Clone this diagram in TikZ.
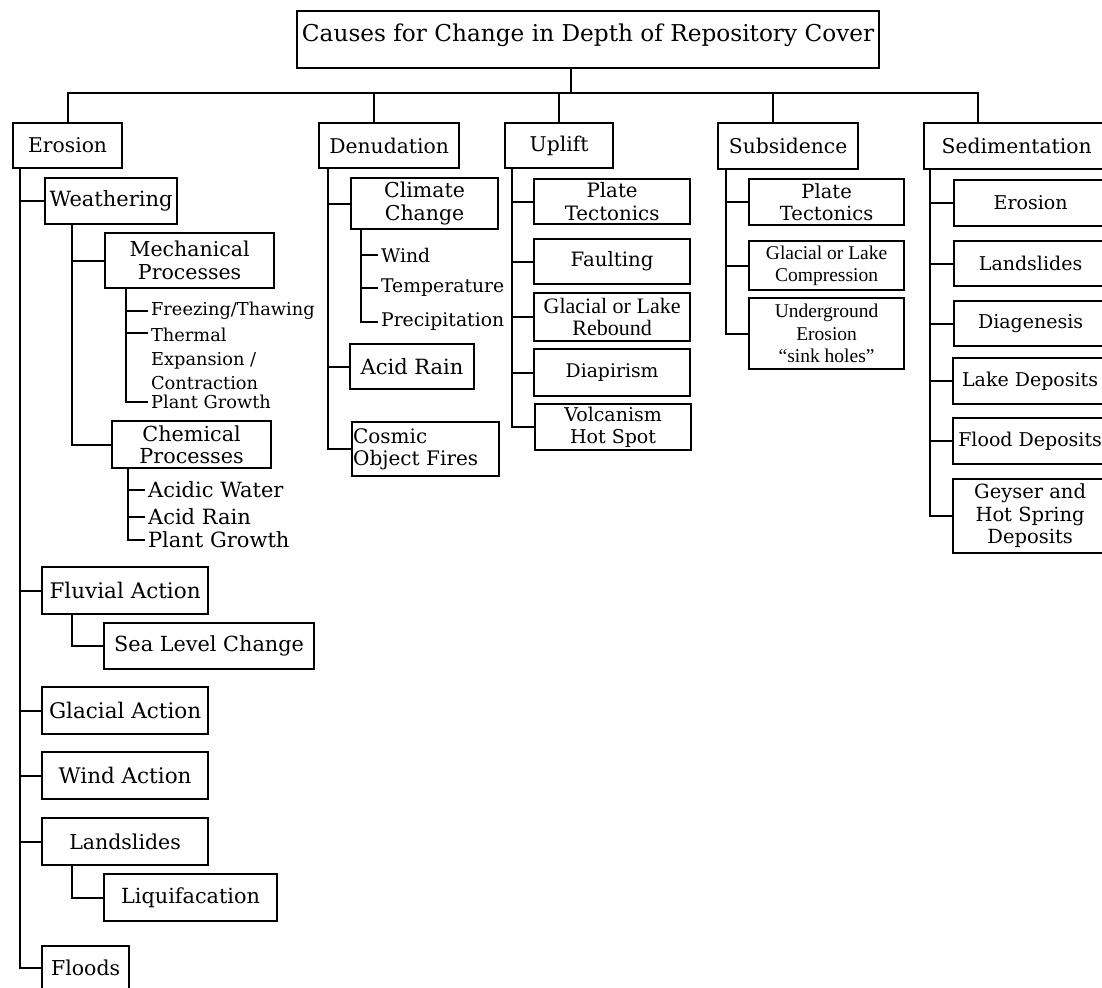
\documentclass[tikz,border=0pt]{standalone}
\usepackage{fontspec}
\setmainfont{DejaVu Serif}
\newfontfamily\tmsfont{Liberation Serif}
\usetikzlibrary{calc}
\begin{document}
\begin{tikzpicture}[x=1pt,y=-1pt,line width=2.2pt,
  fs/.style={font=\fontsize{#1}{22.5}\selectfont},
  tfs/.style={font=\tmsfont\fontsize{#1}{22.5}\selectfont},
  bx/.style={draw,line width=2.2pt,anchor=north west,inner sep=1pt,align=center,fs=19},
  tb/.style={bx,tfs=19.5},
  lf/.style={anchor=west,inner sep=2pt,fs=18.8},
  lfm/.style={anchor=west,inner sep=2pt,font=\fontsize{17.8}{24}\selectfont},
  lfc/.style={anchor=west,inner sep=2pt,fs=21}]
\useasboundingbox (0,0) rectangle (1102,987);
\clip (0,0) rectangle (1102,987);
\fill[white] (0,0) rectangle (1102,987);

% title
\node[bx,minimum width=582,minimum height=57,text height=29,text depth=26,
      inner sep=0pt,font=\fontsize{23.2}{26}\selectfont] (title) at (296,10)
      {Causes for Change in Depth of Repository Cover};

% level 1
\node[bx,fs=20.3,minimum width=109,minimum height=45] (ero) at (12,122) {Erosion};
\node[bx,fs=20.3,minimum width=140,minimum height=45] (den) at (318,122) {Denudation};
\node[bx,fs=20.3,minimum width=108,minimum height=45] (upl) at (504,122) {Uplift};
\node[bx,fs=20.3,minimum width=140,minimum height=46] (sub) at (717,122) {Subsidence};
\node[bx,fs=20.3,minimum width=185,minimum height=46] (sed) at (923,122) {Sedimentation};

% trunk
\coordinate (bar) at (571,93);
\draw (title.south -| bar) -- (bar);
\draw (ero.north) |- (bar);
\coordinate (dtop) at ([xshift=-15pt]den.north);
\draw (dtop) -- (dtop |- bar);
\draw (upl.north) -- (upl.north |- bar);
\coordinate (stop) at ([xshift=-15pt]sub.north);
\draw (stop) -- (stop |- bar);
\coordinate (sdtop) at ([xshift=-38.5pt]sed.north);
\draw (sdtop) |- (bar);

% ---------------- Erosion column
\node[bx,fs=21,minimum width=132,minimum height=46] (weath) at (44,177) {Weathering};
\node[bx,fs=20.5,minimum width=169,minimum height=55] (mech) at (104,232) {Mechanical\\Processes};
\node[lfm] (frz) at (148,311) {Freezing/Thawing};
\node[lfm,anchor=north west,align=left] (thm) at (148,325) {Thermal\\Expansion /\\Contraction};
\node[lfm] (pg1) at (148,402) {Plant Growth};
\node[bx,fs=20.7,minimum width=159,minimum height=47] (chem) at (111,420) {Chemical\\Processes};
\node[lfc] (acw) at (145,490) {Acidic Water};
\node[lfc] (acr) at (145,517) {Acid Rain};
\node[lfc] (pg2) at (145,540) {Plant Growth};
\node[bx,fs=21.5,minimum width=166,minimum height=47] (fluv) at (41,566) {Fluvial Action};
\node[bx,fs=20.8,minimum width=210,minimum height=46] (sea) at (103,622) {Sea Level Change};
\node[bx,fs=21.5,minimum width=166,minimum height=47] (glac) at (41,686) {Glacial Action};
\node[bx,fs=21.5,minimum width=166,minimum height=47] (wind) at (41,751) {Wind Action};
\node[bx,fs=20.5,minimum width=166,minimum height=47] (land) at (41,817) {Landslides};
\node[bx,fs=20.8,minimum width=173,minimum height=47] (liq) at (103,873) {Liquifacation};
\node[bx,fs=20.5,minimum width=87,minimum height=44] (flood) at (41,945) {Floods};

\coordinate (eS) at ([xshift=8pt]ero.south west);
\draw (eS) |- (flood.west);
\foreach \n in {weath,fluv,glac,wind,land} \draw (\n.west -| eS) -- (\n.west);
\coordinate (wS) at ([xshift=28pt]weath.south west);
\draw (wS) |- (chem.west);
\draw (mech.west -| wS) -- (mech.west);
\coordinate (mS) at ([xshift=22pt]mech.south west);
\draw (mS) |- (pg1.west);
\draw (frz.west -| mS) -- (frz.west);
\draw (mS |- 0,333) -- (thm.west |- 0,333);
\coordinate (cS) at ([xshift=17pt]chem.south west);
\draw (cS) |- (pg2.west);
\foreach \n in {acw,acr} \draw (\n.west -| cS) -- (\n.west);
\coordinate (fS) at ([xshift=31pt]fluv.south west);
\draw (fS) |- (sea.west);
\coordinate (lS) at ([xshift=31pt]land.south west);
\draw (lS) |- (liq.west);

% ---------------- Denudation column
\node[bx,fs=20.5,minimum width=147,minimum height=51] (clim) at (350,177) {Climate\\Change};
\node[lf] (wnd) at (378,255) {Wind};
\node[lf] (tmp) at (378,288) {Temperature};
\node[lf] (prc) at (378,322) {Precipitation};
\node[bx,fs=21,minimum width=124,minimum height=45] (arain) at (349,343) {Acid Rain};
\node[bx,fs=20,text width=145,minimum height=54,align=left] (cosm) at (351,421) {Cosmic\\Object Fires};
\coordinate (dS) at ([xshift=10pt]den.south west);
\draw (dS) |- (cosm.west);
\foreach \n in {clim,arain} \draw (\n.west -| dS) -- (\n.west);
\coordinate (clS) at ([xshift=11pt]clim.south west);
\draw (clS) |- (prc.west);
\foreach \n in {wnd,tmp} \draw (\n.west -| clS) -- (\n.west);

% ---------------- Uplift column
\node[bx,fs=19.8,minimum width=156,minimum height=45] (pt1) at (533,178) {Plate\\Tectonics};
\node[bx,fs=19.8,minimum width=156,minimum height=45] (fault) at (533,238) {Faulting};
\node[bx,tfs=22,minimum width=156,minimum height=48] (glr) at (533,292) {Glacial or Lake\\Rebound};
\node[bx,fs=18.8,minimum width=156,minimum height=47] (diap) at (533,348) {Diapirism};
\node[bx,fs=19,minimum width=156,minimum height=46] (volc) at (534,403) {Volcanism\\Hot Spot};
\coordinate (uS) at ([xshift=8pt]upl.south west);
\draw (uS) |- (volc.west);
\foreach \n in {pt1,fault,glr,diap} \draw (\n.west -| uS) -- (\n.west);

% ---------------- Subsidence column
\node[bx,fs=19.5,minimum width=155,minimum height=46] (pt2) at (748,178) {Plate\\Tectonics};
\node[tb,minimum width=155,minimum height=49] (glc) at (748,240) {Glacial or Lake\\Compression};
\node[tb,minimum width=155,minimum height=71] (und) at (748,297) {Underground\\Erosion\\“sink holes”};
\coordinate (sS) at ([xshift=9pt]sub.south west);
\draw (sS) |- (und.west);
\foreach \n in {pt2,glc} \draw (\n.west -| sS) -- (\n.west);

% ---------------- Sedimentation column
\node[bx,minimum width=153,minimum height=46] (se1) at (953,179) {Erosion};
\node[bx,minimum width=153,minimum height=45] (se2) at (953,240) {Landslides};
\node[bx,minimum width=153,minimum height=45] (se3) at (953,300) {Diagenesis};
\node[bx,minimum width=154,minimum height=46] (se4) at (952,357) {Lake Deposits};
\node[bx,minimum width=154,minimum height=46] (se5) at (952,417) {Flood Deposits};
\node[bx,fs=19.5,minimum width=154,minimum height=74] (se6) at (952,478) {Geyser and\\Hot Spring\\Deposits};
\coordinate (sdS) at ([xshift=7pt]sed.south west);
\draw (sdS) |- (se6.west);
\foreach \n in {se1,se2,se3,se4,se5} \draw (\n.west -| sdS) -- (\n.west);
\end{tikzpicture}
\end{document}
